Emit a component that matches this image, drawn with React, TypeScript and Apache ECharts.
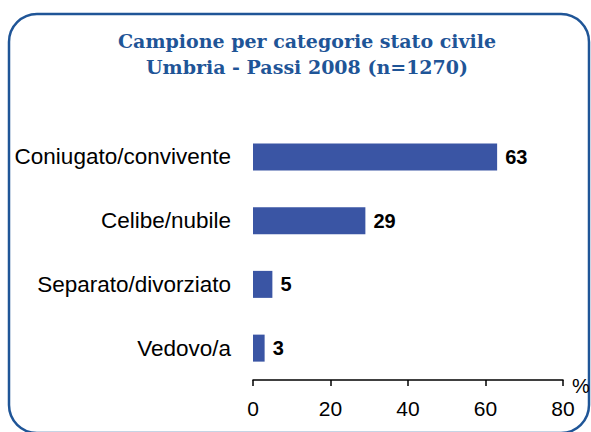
import React, { useEffect, useRef } from "react";
import * as echarts from "echarts";

const categories = ["Coniugato/convivente", "Celibe/nubile", "Separato/divorziato", "Vedovo/a"];
const values = [63, 29, 5, 3];
const xTicks = [0, 20, 40, 60, 80];
const titleLines = ["Campione per categorie stato civile", "Umbria - Passi 2008 (n=1270)"];
const unitLabel = "%";

export default function App() {
  const ref = useRef<HTMLDivElement>(null);
  useEffect(() => {
    const chart = echarts.init(ref.current!, null, { renderer: "svg" });
    chart.setOption({
      animation: false,
      backgroundColor: "#ffffff",
      graphic: [
        {
          type: "rect",
          shape: { x: 9, y: 14, width: 580, height: 419, r: 28 },
          style: { fill: "none", stroke: "#1f5597", lineWidth: 2.5 },
          z: 0,
        },
        {
          type: "text",
          x: 307,
          y: 50,
          style: {
            text: titleLines[0],
            fill: "#1f5597",
            font: "bold 19px 'DejaVu Serif', serif",
            align: "center",
            verticalAlign: "bottom",
          },
        },
        {
          type: "text",
          x: 307,
          y: 76,
          style: {
            text: titleLines[1],
            fill: "#1f5597",
            font: "bold 19px 'DejaVu Serif', serif",
            align: "center",
            verticalAlign: "bottom",
          },
        },
        {
          type: "text",
          x: 572,
          y: 386,
          style: {
            text: unitLabel,
            fill: "#000",
            font: "20px 'Liberation Sans', sans-serif",
            align: "left",
            verticalAlign: "middle",
          },
        },
      ],
      grid: { left: 253, right: 28, top: 125, bottom: 52, containLabel: false },
      xAxis: {
        type: "value",
        min: xTicks[0],
        max: xTicks[xTicks.length - 1],
        interval: 20,
        axisLine: { show: true, lineStyle: { color: "#000", width: 1.5 } },
        axisTick: { show: true, length: 6, lineStyle: { color: "#000", width: 1.5 } },
        axisLabel: { fontSize: 21, color: "#000", fontFamily: "Liberation Sans", margin: 18 },
        splitLine: { show: false },
      },
      yAxis: {
        type: "category",
        data: categories,
        inverse: true,
        axisLine: { show: false },
        axisTick: { show: false },
        axisLabel: { fontSize: 22.5, color: "#000", fontFamily: "Liberation Sans", margin: 22 },
      },
      series: [
        {
          type: "bar",
          data: values,
          barWidth: 27,
          itemStyle: { color: "#3a55a4" },
          label: {
            show: true,
            position: "right",
            distance: 8,
            fontSize: 20,
            fontWeight: "bold",
            color: "#000",
            fontFamily: "Liberation Sans",
          },
        },
      ],
    });
    return () => chart.dispose();
  }, []);
  return <div ref={ref} style={{ position: "fixed", left: 0, top: 0, width: 591, height: 432 }} />;
}
